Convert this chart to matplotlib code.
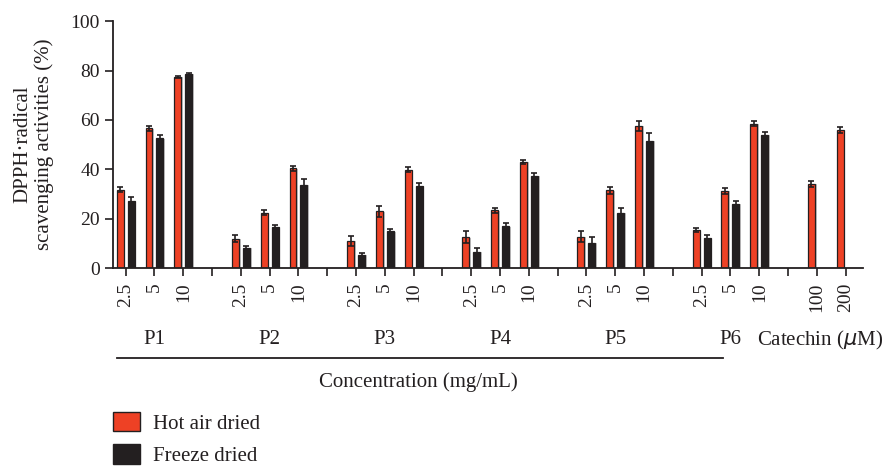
import matplotlib
matplotlib.use("Agg")
import matplotlib.pyplot as plt
import matplotlib.transforms as mtransforms
import matplotlib.patheffects as pe
from matplotlib.patches import Patch

# data
groups = ["P1", "P2", "P3", "P4", "P5", "P6"]
conc_labels = ["2.5", "5", "10"]
hot = [31.7, 56.6, 77.5, 12.0, 22.5, 40.4, 11.2, 23.0, 39.9,
       12.5, 23.4, 43.0, 12.8, 31.5, 57.7, 15.5, 31.4, 58.5]
hot_err = [1.0, 1.1, 0.4, 1.5, 0.9, 1.1, 2.0, 2.2, 0.9,
           2.4, 1.1, 0.9, 2.2, 1.5, 2.0, 0.9, 1.2, 1.1]
freeze = [27.3, 52.6, 78.6, 8.3, 16.8, 33.7, 5.4, 15.0, 33.4,
          6.7, 17.0, 37.3, 10.4, 22.5, 51.5, 12.3, 26.1, 54.0]
freeze_err = [1.6, 1.5, 0.5, 0.9, 0.8, 2.4, 0.7, 0.9, 1.1,
              1.3, 1.2, 1.1, 2.4, 1.8, 3.1, 1.1, 1.2, 1.2]
catechin_labels = ["100", "200"]
catechin = [34.2, 55.9]
catechin_err = [1.2, 1.1]

RED = "#ee4125"
DARK = "#231f20"

plt.rcParams["font.family"] = ["Liberation Serif", "DejaVu Serif"]
plt.rcParams["font.size"] = 15
plt.rcParams["xtick.labelsize"] = 14
plt.rcParams["ytick.labelsize"] = 14

fig = plt.figure(figsize=(8.84, 4.69), dpi=100)
ax = fig.add_axes([0.1278, 0.428, 0.848, 0.527])

# slot positions: 3 concentrations + 1 gap per group, then catechin
x_ext = [4 * g + i for g in range(len(groups)) for i in range(len(conc_labels))]
x_cat = [4 * len(groups) + i for i in range(len(catechin))]

w = 0.24
off = 0.19
shadow = [pe.SimplePatchShadow(offset=(1.3, -0.3), shadow_rgbFace="0.78", alpha=1.0), pe.Normal()]

b1 = ax.bar([x - off for x in x_ext], hot, width=w, color=RED, edgecolor=DARK, linewidth=0.9)
b2 = ax.bar([x + off for x in x_ext], freeze, width=w, color=DARK, edgecolor=DARK, linewidth=0.9)
b3 = ax.bar([x - off for x in x_cat], catechin, width=w, color=RED, edgecolor=DARK, linewidth=0.9)
for bars in (b1, b2, b3):
    for p in bars:
        p.set_path_effects(shadow)

ekw = dict(fmt="none", ecolor=DARK, elinewidth=1.2, capsize=2, capthick=1.2)
ax.errorbar([x - off for x in x_ext], hot, yerr=hot_err, **ekw)
ax.errorbar([x + off for x in x_ext], freeze, yerr=freeze_err, **ekw)
ax.errorbar([x - off for x in x_cat], catechin, yerr=catechin_err, **ekw)

# ticks on every slot, gaps unlabeled
n_slots = 4 * len(groups) + len(catechin)
tick_labels = []
for s in range(n_slots):
    if s < 4 * len(groups):
        tick_labels.append(conc_labels[s % 4] if s % 4 < 3 else "")
    else:
        tick_labels.append(catechin_labels[s - 4 * len(groups)])
ax.set_xticks(range(n_slots))
ax.set_xticklabels(tick_labels, rotation=90)
ax.set_xlim(-0.44, 25.59)
ax.set_ylim(0, 100)
ax.set_yticks([0, 20, 40, 60, 80, 100])

for side in ("top", "right"):
    ax.spines[side].set_visible(False)
for side in ("left", "bottom"):
    ax.spines[side].set_linewidth(1.3)
    ax.spines[side].set_color(DARK)
ax.tick_params(axis="both", direction="out", length=5.5, width=1.2, color=DARK, labelcolor=DARK)
ax.tick_params(axis="x", pad=5)
ax.tick_params(axis="y", pad=4)

ax.set_ylabel("DPPH\u00b7radical\nscavenging activities (%)", linespacing=1.1, color=DARK)
ax.yaxis.set_label_coords(-0.079, 0.5)

# group labels below the tick labels
blend = mtransforms.blended_transform_factory(ax.transData, fig.transFigure)
for g, name in enumerate(groups):
    ax.text(4 * g + 1, 1 - 340 / 469, name, transform=blend, ha="center", va="center", color=DARK)
ax.text(24.1, 1 - 340 / 469, "Catechin ($\\mu$M)", transform=blend, ha="center", va="center",
        color=DARK)
ax.plot([-0.3, 20.74], [1 - 357.7 / 469] * 2, transform=blend, clip_on=False, color=DARK, lw=1.3)
ax.text(10.15, 1 - 381.7 / 469, "Concentration (mg/mL)", transform=blend, ha="center", va="center",
        color=DARK)

handles = [Patch(facecolor=RED, edgecolor=DARK), Patch(facecolor=DARK, edgecolor=DARK)]
fig.legend(handles, ["Hot air dried", "Freeze dried"], loc="upper left",
           bbox_to_anchor=(0.1278, 1 - 412 / 469), frameon=False, borderpad=0, borderaxespad=0,
           handlelength=1.3, handleheight=1.05, handletextpad=0.6, labelspacing=0.5,
           labelcolor=DARK)

fig.savefig("out.png", dpi=100)
